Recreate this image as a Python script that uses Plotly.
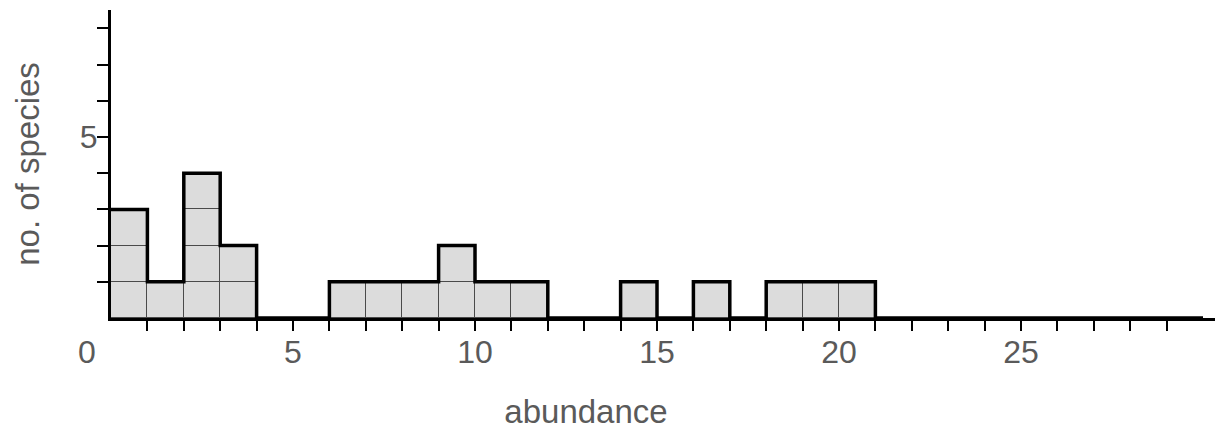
import plotly.graph_objects as go

# Data: histogram of species abundance (bins of width 1, left edges 0..29)
bin_left = list(range(30))
counts = [3, 1, 4, 2, 0, 0, 1, 1, 1, 2, 1, 1, 0, 0, 1, 0, 1, 0, 1, 1, 1,
          0, 0, 0, 0, 0, 0, 0, 0, 0]
x_tick_pos = [-0.66, 5, 10, 15, 20, 25]
x_tick_text = ["0", "5", "10", "15", "20", "25"]
y_tick_vals = [1, 2, 3, 4, 5, 6, 7, 8]
y_tick_text = ["", "", "", "", "5", "", "", ""]

FONT = "Liberation Sans, Arial, Helvetica, sans-serif"
TXT = "#5a5a5a"
FILL = "#dcdcdc"

fig = go.Figure()

centers = [b + 0.5 for b in bin_left]
max_c = max(counts)
for k in range(1, max_c + 1):
    fig.add_trace(go.Bar(
        x=centers,
        y=[1 if c >= k else None for c in counts],
        width=1,
        marker=dict(color=FILL, line=dict(color="#4a4a4a", width=1)),
        showlegend=False, hoverinfo="skip",
    ))

# thick outline (step)
edges = bin_left + [bin_left[-1] + 1]
fig.add_trace(go.Scatter(
    x=edges, y=counts + [counts[-1]],
    mode="lines", line=dict(shape="hv", color="black", width=3.5),
    showlegend=False, hoverinfo="skip", cliponaxis=False,
))

# empty trace so that the label axis (xaxis2) is created
fig.add_trace(go.Scatter(x=[], y=[], xaxis="x2", yaxis="y",
                         showlegend=False, hoverinfo="skip"))

W, H = 1221, 435
ml, mr, mt, mb = 60, 6, 10, 117
pw = W - ml - mr
x0_px = 111
unit = 36.4
d0 = (x0_px - ml) / pw
xr_max = (W - mr - x0_px) / unit
title_center = 586
b_px = 2 * title_center - ml
d1 = (b_px - ml) / pw

fig.update_layout(
    width=W, height=H,
    margin=dict(l=ml, r=mr, t=mt, b=mb),
    plot_bgcolor="rgba(0,0,0,0)", paper_bgcolor="white",
    barmode="stack", bargap=0,
    font=dict(family=FONT, size=32, color=TXT),
    xaxis=dict(
        domain=[d0, 1], range=[0, xr_max], anchor="y",
        tickmode="array", tickvals=bin_left[1:], showticklabels=False,
        ticks="outside", ticklen=10, tickwidth=2, tickcolor="black",
        showline=True, linewidth=3, linecolor="black",
        showgrid=False, zeroline=False,
    ),
    xaxis2=dict(
        domain=[0, d1], range=[-(x0_px - ml) / unit, (b_px - x0_px) / unit],
        anchor="y", tickmode="array", tickvals=x_tick_pos, ticktext=x_tick_text,
        ticks="", showline=False, showgrid=False, zeroline=False,
        tickfont=dict(size=32, color=TXT), ticklabelstandoff=12,
        title=dict(text="abundance", font=dict(size=33, color=TXT), standoff=30),
    ),
    yaxis=dict(
        range=[0, 8.51], anchor="x",
        tickmode="array", tickvals=y_tick_vals, ticktext=y_tick_text,
        ticks="outside", ticklen=11, tickwidth=2, tickcolor="black",
        showline=True, linewidth=3, linecolor="black",
        showgrid=False, zeroline=False,
        tickfont=dict(size=32, color=TXT), ticklabelstandoff=-7,
        title=dict(text="no. of species", font=dict(size=33, color=TXT), standoff=31),
    ),
)

fig.write_html("out.html")
